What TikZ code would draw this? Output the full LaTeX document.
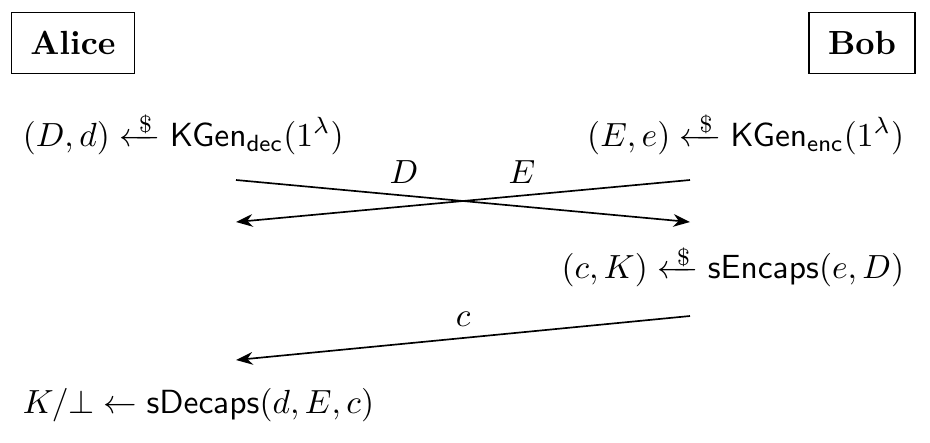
\documentclass[tikz,border=0pt]{standalone}
\usepackage{amsmath}
\usetikzlibrary{positioning, arrows.meta}
\newcommand{\rndget}{\mathrel{\xleftarrow{\hspace{2pt}\raisebox{-0.6mm}[0pt][0pt]{\scriptsize\$}}}}
\tikzset{
  party/.style={draw, inner sep=5.6pt, font=\bfseries},
  op/.style={inner sep=0pt},
}
\begin{document}
\begin{tikzpicture}[>={Stealth[length=5pt, width=3.8pt]}, line width=0.5pt, x=0.0105cm, y=-0.0105cm]
\useasboundingbox (0,0) rectangle (930,442);
% parties
\node[party](alice) at (73,43){Alice};
\node[party](bob) at (862,43){Bob};
% key generation
\node[op, anchor=west](kgenA) at (22,136){$(D,d) \rndget \mathsf{KGen}_{\mathsf{dec}}(1^\lambda)$};
\node[op, anchor=east](kgenB) at (905,136){$(E,e) \rndget \mathsf{KGen}_{\mathsf{enc}}(1^\lambda)$};
\coordinate (dA) at (236,180);
\coordinate (dB) at (690,222);
\coordinate (eB) at (690,180);
\coordinate (eA) at (236,222);
\draw[->](dA) -- node[pos=.37, above]{$D$} (dB);
\draw[->](eB) -- node[pos=.37, above]{$E$} (eA);
% encapsulation
\node[op, anchor=east](encB) at (905,270){$(c,K) \rndget \mathsf{sEncaps}(e,D)$};
\coordinate (cB) at (690,316);
\coordinate (cA) at (236,360);
\draw[->](cB) -- node[midway, above]{$c$} (cA);
% decapsulation
\node[op, anchor=west](decA) at (22,405){$K/\bot \leftarrow \mathsf{sDecaps}(d,E,c)$};
\end{tikzpicture}
\end{document}
